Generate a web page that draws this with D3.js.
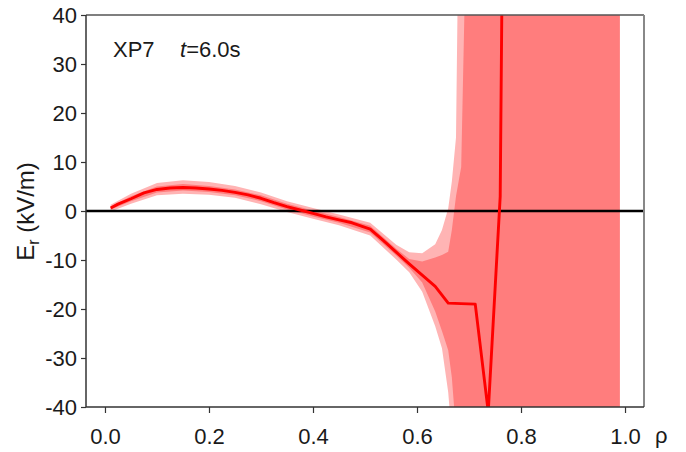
<!DOCTYPE html>
<html>
<head>
<meta charset="utf-8">
<script src="https://cdn.jsdelivr.net/npm/d3@7"></script>
<style>
  body { margin: 0; background: #fff; }
  text { font-family: "Liberation Sans", Arial, sans-serif; fill: #1a1a1a; }
</style>
</head>
<body>
<svg id="chart" width="686" height="452"></svg>
<script>
// Radial electric field profile E_r(ρ)
const profileRho = [0.011, 0.025, 0.05, 0.075, 0.10, 0.125, 0.15, 0.175, 0.20, 0.225, 0.25, 0.275, 0.30, 0.325, 0.35, 0.375, 0.40, 0.425, 0.45, 0.475, 0.51, 0.535, 0.56, 0.585, 0.61, 0.635, 0.66, 0.685, 0.712, 0.737, 0.76, 0.785];
const profileEr  = [0.6, 1.4, 2.5, 3.7, 4.4, 4.7, 4.8, 4.7, 4.5, 4.2, 3.8, 3.3, 2.6, 1.7, 0.9, 0.2, -0.5, -1.2, -1.8, -2.4, -3.7, -6.0, -8.4, -10.8, -13.1, -15.4, -18.8, -18.9, -19.0, -41, 3, 310];

// Uncertainty envelopes (outer = wide, inner = narrow)
const bandRho   = [0.011, 0.05, 0.10, 0.15, 0.20, 0.25, 0.30, 0.35, 0.40, 0.45, 0.51, 0.56, 0.585, 0.61, 0.635, 0.648, 0.66, 0.667, 0.675, 0.68, 0.685, 0.695, 0.99];
const outerLow  = [-0.1, 1.5, 3.2, 3.5, 3.3, 2.7, 1.4, -0.2, -1.6, -2.9, -5.0, -9.9, -12.5, -16.5, -23.5, -28.0, -37.0, -46, -60, -60, -60, -60, -60];
const innerLow  = [0.3, 2.0, 3.8, 4.2, 3.9, 3.2, 2.0, 0.3, -1.1, -2.4, -4.4, -9.1, -11.6, -14.6, -20.5, -24.5, -28.4, -34, -45, -55, -60, -60, -60];
const innerHigh = [0.9, 3.0, 5.0, 5.5, 5.1, 4.4, 3.2, 1.5, 0.1, -1.2, -3.0, -7.7, -9.8, -10.3, -9.5, -9.0, -8.3, -3.9, 3, 6, 9, 60, 60];
const outerHigh = [1.3, 3.5, 5.7, 6.3, 5.9, 5.1, 3.8, 2.0, 0.6, -0.7, -2.4, -6.9, -8.4, -8.6, -6.8, -3.9, 0.5, 6, 15, 60, 60, 60, 60];

const xTicks = [0, 0.2, 0.4, 0.6, 0.8, 1.0];
const yTicks = [-40, -30, -20, -10, 0, 10, 20, 30, 40];
const shotLabel = "XP7";
const timeValue = "=6.0s";

const svg = d3.select("#chart");
const plot = { left: 86, right: 644, top: 15, bottom: 407 };

const x = d3.scaleLinear().domain([-0.0365, 1.0365]).range([plot.left, plot.right]);
const y = d3.scaleLinear().domain([-40, 40]).range([plot.bottom, plot.top]);

svg.append("defs").append("clipPath").attr("id", "plot-clip")
  .append("rect")
  .attr("x", plot.left).attr("y", plot.top)
  .attr("width", plot.right - plot.left).attr("height", plot.bottom - plot.top);

const layer = svg.append("g").attr("clip-path", "url(#plot-clip)");
const idx = d3.range(bandRho.length);

const outerArea = d3.area()
  .x(i => x(bandRho[i])).y0(i => y(outerLow[i])).y1(i => y(outerHigh[i]));
const innerArea = d3.area()
  .x(i => x(bandRho[i])).y0(i => y(innerLow[i])).y1(i => y(innerHigh[i]));

layer.append("path").attr("d", outerArea(idx)).attr("fill", "#ffb4b4");
layer.append("path").attr("d", innerArea(idx)).attr("fill", "#ff7d7d");

// zero line
layer.append("line")
  .attr("x1", plot.left).attr("x2", plot.right)
  .attr("y1", y(0)).attr("y2", y(0))
  .attr("stroke", "#000").attr("stroke-width", 2.3);

const profileLine = d3.line()
  .x(i => x(profileRho[i])).y(i => y(profileEr[i]));
layer.append("path")
  .attr("d", profileLine(d3.range(profileRho.length)))
  .attr("fill", "none").attr("stroke", "#ff0000")
  .attr("stroke-width", 2.9).attr("stroke-linejoin", "round");

// frame
svg.append("line").attr("x1", plot.left).attr("x2", plot.right)
  .attr("y1", plot.top).attr("y2", plot.top)
  .attr("stroke", "#555").attr("stroke-width", 1.5);
svg.append("line").attr("x1", plot.right).attr("x2", plot.right)
  .attr("y1", plot.top).attr("y2", plot.bottom)
  .attr("stroke", "#888").attr("stroke-width", 2);

// axes
const yAxis = d3.axisLeft(y).tickValues(yTicks).tickFormat(d => String(d))
  .tickSize(5).tickSizeOuter(0).tickPadding(4);
const gy = svg.append("g").attr("transform", `translate(${plot.left},0)`).call(yAxis);

const xAxis = d3.axisBottom(x).tickValues(xTicks).tickFormat(d3.format(".1f"))
  .tickSize(6).tickSizeOuter(0).tickPadding(15);
const gx = svg.append("g").attr("transform", `translate(0,${plot.bottom})`).call(xAxis);

[gx, gy].forEach(g => {
  g.select(".domain").attr("stroke", "#333").attr("stroke-width", 1.5);
  g.selectAll(".tick line").attr("stroke", "#333").attr("stroke-width", 1.2);
  g.selectAll(".tick text").attr("fill", "#1a1a1a")
    .style("font-family", '"Liberation Sans", Arial, sans-serif')
    .style("font-size", "22px");
});
gy.select(".domain").attr("d", `M0,${plot.top}V${plot.bottom}`);
gx.select(".domain").attr("d", `M${plot.left},0H${plot.right}`);

// axis titles
svg.append("text").attr("x", 655).attr("y", 443)
  .style("font-size", "22px").text("ρ");

const ylab = svg.append("text")
  .attr("transform", "translate(33.5,211.5) rotate(-90)")
  .attr("text-anchor", "middle").style("font-size", "24px");
ylab.append("tspan").text("E");
ylab.append("tspan").attr("dy", 5).style("font-size", "16px").text("r");
ylab.append("tspan").attr("dy", -5).text(" (kV/m)");

// annotation
const note = svg.append("text").attr("x", 113).attr("y", 57).style("font-size", "22px");
note.append("tspan").text(shotLabel);
note.append("tspan").attr("x", 180).style("font-style", "italic").text("t");
note.append("tspan").text(timeValue);
</script>
</body>
</html>
